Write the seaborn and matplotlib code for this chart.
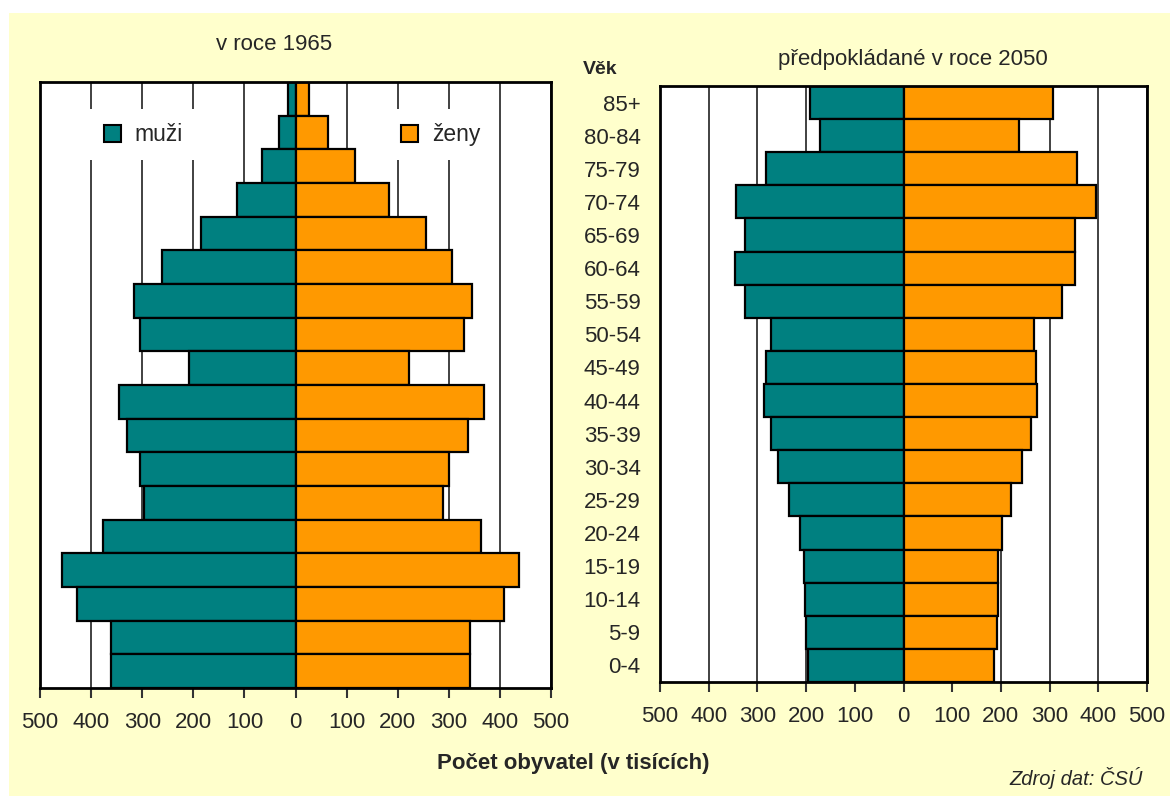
import numpy as np
import pandas as pd
import matplotlib
matplotlib.use('Agg')
import matplotlib.pyplot as plt
from matplotlib.patches import Rectangle, Patch
import seaborn as sns

# age groups, top (85+) to bottom (0-4)
ages = ['85+', '80-84', '75-79', '70-74', '65-69', '60-64', '55-59', '50-54', '45-49',
        '40-44', '35-39', '30-34', '25-29', '20-24', '15-19', '10-14', '5-9', '0-4']

# population in thousands
men_1965 = [15, 32, 66, 115, 185, 261, 316, 305, 209, 345, 329, 305, 297, 376, 457, 428, 361, 362]
women_1965 = [27, 63, 116, 182, 256, 306, 346, 330, 223, 368, 337, 300, 288, 363, 438, 408, 342, 342]
men_2050 = [192, 171, 283, 344, 326, 345, 326, 273, 283, 287, 273, 257, 235, 213, 205, 203, 201, 197]
women_2050 = [306, 238, 357, 395, 353, 353, 326, 268, 273, 275, 261, 243, 221, 203, 194, 194, 192, 186]

sexes = ['muži', 'ženy']
colors = {'muži': '#008080', 'ženy': '#FF9900'}
ticks = [-500, -400, -300, -200, -100, 0, 100, 200, 300, 400, 500]

sns.set_theme(style='white')
plt.rcParams['font.family'] = ['Liberation Sans', 'DejaVu Sans']

FS = 16


def long_table(men, women):
    df = pd.DataFrame({
        'age': ages * 2,
        'sex': ['muži'] * len(ages) + ['ženy'] * len(ages),
        'value': [-v for v in men] + list(women),
    })
    return df


def draw_pyramid(ax, men, women):
    df = long_table(men, women)
    for x in ticks:
        ax.axvline(x, color='#333333', lw=1.3, zorder=0)
    sns.barplot(data=df, x='value', y='age', hue='sex', order=ages, palette=colors,
                orient='h', dodge=False, width=1.0, saturation=1, edgecolor='black',
                linewidth=1.6, legend=False, ax=ax, zorder=2)
    ax.set_xlim(-500, 500)
    ax.set_ylim(len(ages) - 0.5, -0.5)
    ax.set_xticks(ticks)
    ax.set_xticklabels([str(abs(t)) for t in ticks], fontsize=FS)
    ax.set_xlabel('')
    ax.set_ylabel('')
    ax.set_facecolor('white')
    for s in ax.spines.values():
        s.set_visible(True)
        s.set_color('black')
        s.set_linewidth(2)
    ax.tick_params(axis='x', direction='out', length=7, width=1.5, color='#333333',
                   bottom=True, pad=10)


fig = plt.figure(figsize=(11.7, 7.96), dpi=100)
fig.patch.set_facecolor('white')
fig.patches.append(Rectangle((9 / 1170, 0), 1 - 9 / 1170, 1 - 13 / 796,
                             transform=fig.transFigure, facecolor='#FFFFCC',
                             edgecolor='none', zorder=-10))

ax1 = fig.add_axes([40 / 1170, 1 - 688 / 796, 511 / 1170, 606 / 796])
ax2 = fig.add_axes([660 / 1170, 1 - 682 / 796, 487 / 1170, 596 / 796])

draw_pyramid(ax1, men_1965, women_1965)
draw_pyramid(ax2, men_2050, women_2050)

ax1.set_yticks([])
ax2.tick_params(axis='y', length=0, labelsize=FS, pad=14)

# legend entries, one on each side
for sex, xpos in zip(sexes, [0.075, 0.657]):
    leg = ax1.legend(handles=[Patch(facecolor=colors[sex], edgecolor='black', lw=1.5)],
                     labels=[sex], loc='center left', bbox_to_anchor=(xpos, 0.913),
                     frameon=True, fancybox=False, framealpha=1, facecolor='white',
                     edgecolor='none', fontsize=16.5, handlelength=0.75, handleheight=0.75,
                     handletextpad=0.6, borderpad=0.6)
    leg.set_zorder(5)
    ax1.add_artist(leg)

fig.text(274 / 1170, 1 - 45 / 796, 'v roce 1965', ha='center', va='center', fontsize=FS)
fig.text(913 / 1170, 1 - 60 / 796, 'předpokládané v roce 2050', ha='center', va='center',
         fontsize=FS)
fig.text(583 / 1170, 1 - 70 / 796, 'Věk', ha='left', va='center', fontsize=14,
         fontweight='bold')
fig.text(573 / 1170, 1 - 763 / 796, 'Počet obyvatel (v tisících)', ha='center', va='center',
         fontsize=FS, fontweight='bold')
fig.text(1143 / 1170, 1 - 778 / 796, 'Zdroj dat: ČSÚ', ha='right', va='center',
         fontsize=14.5, fontstyle='italic')

fig.savefig('out.png', dpi=100, facecolor=fig.get_facecolor())
plt.close(fig)
